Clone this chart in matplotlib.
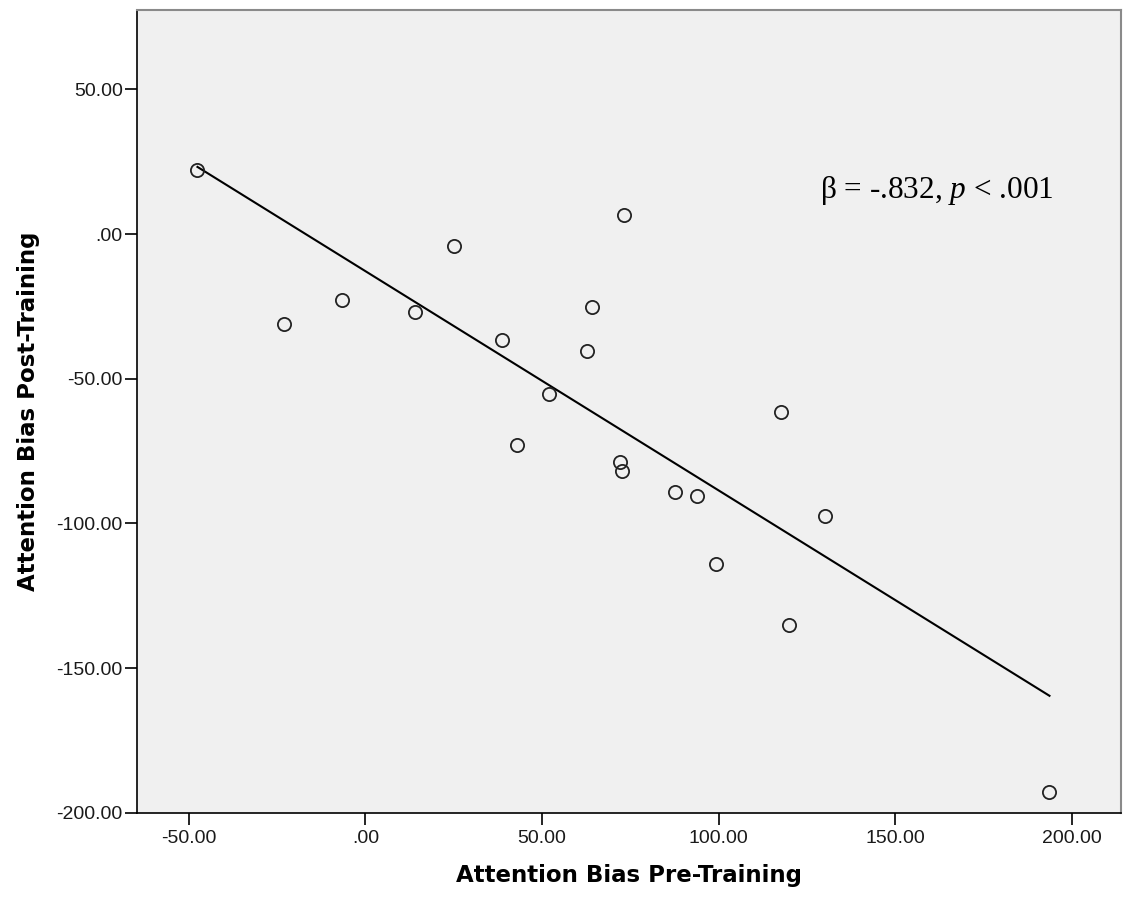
import numpy as np
import matplotlib
matplotlib.use("Agg")
import matplotlib.pyplot as plt
from matplotlib.ticker import FuncFormatter

# attention bias scores
pre_training = [-47.5, -23.0, -6.6, 14.1, 25.2, 38.6, 43.0, 51.9, 62.6, 64.2,
                73.3, 72.1, 72.7, 87.7, 93.9, 99.3, 117.6, 130.0, 119.8, 193.6]
post_training = [22.1, -31.0, -22.9, -27.0, -4.0, -36.7, -73.0, -55.4, -40.5, -25.1,
                 6.5, -78.7, -81.9, -89.3, -90.4, -114.0, -61.5, -97.4, -135.0, -193.0]

x_ticks = [-50, 0, 50, 100, 150, 200]
y_ticks = [-200, -150, -100, -50, 0, 50]
annotation = "\u03b2 = -.832, $\\mathit{p}$ < .001"


def spss_fmt(v, pos):
    s = "%.2f" % v
    if s.startswith("0."):
        s = s[1:]
    return s


plt.rcParams["mathtext.fontset"] = "custom"
plt.rcParams["mathtext.rm"] = "Liberation Serif"
plt.rcParams["mathtext.it"] = "Liberation Serif:italic"

x = np.array(pre_training)
y = np.array(post_training)
slope, intercept = np.polyfit(x, y, 1)
fit_x = np.array([x.min(), x.max()])
fit_y = intercept + slope * fit_x

fig = plt.figure(figsize=(11.25, 9.01), dpi=100)
ax = fig.add_axes([0.1215, 0.098, 0.8745, 0.891])
ax.set_facecolor("#f0f0f0")

ax.plot(fit_x, fit_y, color="black", lw=1.5, zorder=2)
ax.plot(x, y, linestyle="none", marker="o", markersize=9.5,
        markerfacecolor="none", markeredgecolor="#222222", markeredgewidth=1.3, zorder=3)

ax.set_xlim(-64.7, 213.7)
ax.set_ylim(-200, 77.5)
ax.set_xticks(x_ticks)
ax.set_yticks(y_ticks)
ax.xaxis.set_major_formatter(FuncFormatter(spss_fmt))
ax.yaxis.set_major_formatter(FuncFormatter(spss_fmt))
ax.tick_params(axis="x", direction="out", length=8.5, width=1.2, pad=4,
               labelsize=14, colors="black")
ax.tick_params(axis="y", direction="out", length=9, width=1.2, pad=1,
               labelsize=14, colors="black")
for lab in ax.get_xticklabels() + ax.get_yticklabels():
    lab.set_family("Liberation Sans")
    lab.set_color("#1a1a1a")

for side in ["left", "bottom"]:
    ax.spines[side].set_color("black")
    ax.spines[side].set_linewidth(1.2)
for side in ["top", "right"]:
    ax.spines[side].set_color("#8a8a8a")
    ax.spines[side].set_linewidth(1.5)

ax.set_xlabel("Attention Bias Pre-Training", fontsize=16.5, fontweight="bold",
              family="DejaVu Sans", labelpad=12)
ax.set_ylabel("Attention Bias Post-Training", fontsize=16.5, fontweight="bold",
              family="DejaVu Sans", labelpad=12)

ax.text(128.7, 12.5, annotation, fontsize=22.5, family="Liberation Serif",
        ha="left", va="baseline")

fig.savefig("out.png", dpi=100)
